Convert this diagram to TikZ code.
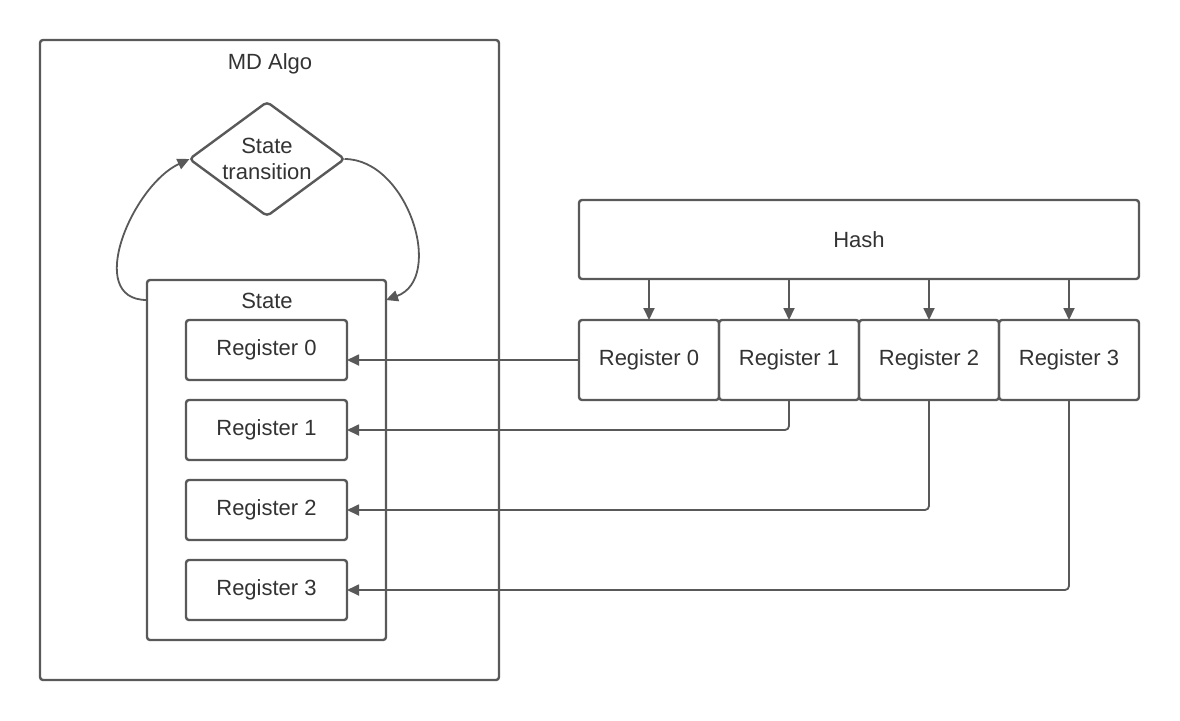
\documentclass[tikz,border=0pt]{standalone}
\usepackage{fontspec}
\setmainfont{Liberation Sans}
\usetikzlibrary{positioning, arrows.meta, shapes.geometric}
\definecolor{linegray}{HTML}{595959}
\definecolor{textgray}{HTML}{333333}
\tikzset{
    x=0.5pt, y=-0.5pt,% one unit is one pixel of the reference
    box/.style={draw=linegray, line width=1.2pt, outer sep=0pt, rounded corners=1.5pt, text=textgray, font=\fontsize{11}{13}\selectfont},
    lreg/.style={box, minimum width=80.5pt, minimum height=30pt},
    rreg/.style={box, minimum width=70pt, minimum height=40pt},
    lbl/.style={text=textgray, font=\fontsize{11}{13}\selectfont},
    arr/.style={draw=linegray, line width=0.9pt, -{Triangle[length=6pt, width=5.5pt]}}
}
\begin{document}
\begin{tikzpicture}
    \useasboundingbox (0,0) rectangle (1180,720);
    % MD Algo side
    \node [box, minimum width=229.5pt, minimum height=320pt] (algo) at (269.5,360) {};
    \node [lbl] (algolbl) at (270,64) {MD Algo};
    \node [box, diamond, aspect=1.36, rounded corners=2pt, align=center, minimum width=77.5pt, minimum height=57pt, inner sep=0pt] (trans) at (267,159) {State\\transition};
    \node [box, minimum width=119.5pt, minimum height=180pt] (state) at (266.5,460) {};
    \node [lbl] (statelbl) at (267,301) {State};
    \node [lreg] (l0) at (266.5,350) {Register 0};
    \node [lreg, below=10pt of l0] (l1) {Register 1};
    \node [lreg, below=10pt of l1] (l2) {Register 2};
    \node [lreg, below=10pt of l2] (l3) {Register 3};
    % loop round the transition
    \coordinate (sw) at ([yshift=-10pt]state.north west);
    \coordinate (se) at ([yshift=-10pt]state.north east);
    \draw [arr] (sw) to[out=180, in=-155, looseness=1.1] (trans.west);
    \draw [arr] (trans.east) to[out=0, in=20, looseness=1.1] (se);
    % Hash side
    \node [box, minimum width=280pt, minimum height=39.5pt] (hash) at (859,239.5) {Hash};
    \node [rreg] (r0) at (649,360) {Register 0};
    \node [rreg, right=0pt of r0] (r1) {Register 1};
    \node [rreg, right=0pt of r1] (r2) {Register 2};
    \node [rreg, right=0pt of r2] (r3) {Register 3};
    \foreach \i in {0,...,3}
        \draw [arr] (hash.south -| r\i.north) -- (r\i.north);
    \draw [arr] (r0.west) -- (r0.west -| l0.east);
    \foreach \i in {1,2,3}
        \draw [arr, rounded corners=2pt] (r\i.south) |- (l\i.east);
\end{tikzpicture}
\end{document}
